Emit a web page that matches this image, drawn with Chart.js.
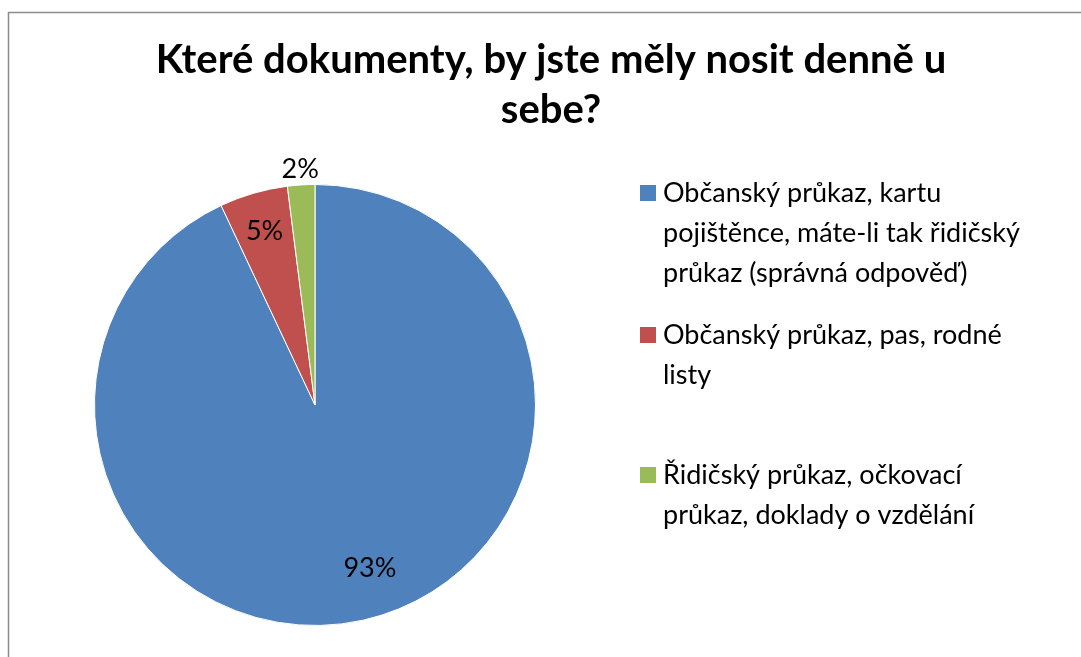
<!DOCTYPE html>
<html>
<head>
<meta charset="utf-8">
<script src="https://cdn.jsdelivr.net/npm/chart.js@4"></script>
<style>
  html, body { margin: 0; padding: 0; background: #fff; }
  #wrap { width: 1081px; height: 657px; position: relative; }
</style>
</head>
<body>
<div id="wrap"><canvas id="chart" width="1081" height="657"></canvas></div>
<script>
const titleLines = ["Které dokumenty, by jste měly nosit denně u", "sebe?"];
const categories = [
    ["Občanský průkaz, kartu", "pojištěnce, máte-li tak řidičský", "průkaz (správná odpověď)"],
    ["Občanský průkaz, pas, rodné", "listy"],
    ["Řidičský průkaz, očkovací", "průkaz, doklady o vzdělání"]
];
const values = [93, 5, 2];
const colors = ["#4F81BD", "#C0504D", "#9BBB59"];

const FONT = "Lato, 'Open Sans', sans-serif";

// frame, title and legend drawn by hand (Excel-like layout)
const decorPlugin = {
    id: "decor",
    beforeDraw(chart) {
        const ctx = chart.ctx;
        ctx.save();
        ctx.fillStyle = "#fff";
        ctx.fillRect(0, 0, chart.width, chart.height);
        ctx.strokeStyle = "#8c8c8c";
        ctx.lineWidth = 1.5;
        ctx.beginPath();
        ctx.moveTo(8.5, chart.height + 5);
        ctx.lineTo(8.5, 12.5);
        ctx.lineTo(chart.width + 5, 12.5);
        ctx.stroke();
        ctx.restore();
    },
    afterDraw(chart) {
        const ctx = chart.ctx;
        ctx.save();
        // title
        ctx.fillStyle = "#000";
        ctx.textAlign = "center";
        ctx.textBaseline = "middle";
        ctx.font = "bold 40px " + FONT;
        titleLines.forEach((line, i) => ctx.fillText(line, 551, 60 + i * 50));

        // legend
        ctx.font = "27px " + FONT;
        ctx.textAlign = "left";
        const itemTops = [193, 335, 475];
        categories.forEach((lines, i) => {
            ctx.fillStyle = colors[i];
            ctx.fillRect(640, itemTops[i] - 8, 16, 16);
            ctx.fillStyle = "#000";
            lines.forEach((line, j) => ctx.fillText(line, 663, itemTops[i] + j * 40));
        });

        // percent labels (small slices outside, big slice nudged like Excel best fit)
        const meta = chart.getDatasetMeta(0);
        ctx.font = "27px " + FONT;
        ctx.textAlign = "center";
        meta.data.forEach((arc, i) => {
            let mid = (arc.startAngle + arc.endAngle) / 2;
            let r = arc.outerRadius * 0.82;
            if (values[i] < 3) r = arc.outerRadius + 16;
            if (values[i] > 50) { mid -= 0.105; r = arc.outerRadius * 0.78; }
            ctx.fillText(values[i] + "%", arc.x + Math.cos(mid) * r, arc.y + Math.sin(mid) * r);
        });
        ctx.restore();
    }
};

new Chart(document.getElementById("chart").getContext("2d"), {
    type: "pie",
    data: {
        labels: categories.map(c => c.join(" ")),
        datasets: [{
            data: values,
            backgroundColor: colors,
            borderColor: "#fff",
            borderWidth: 1,
            hoverOffset: 0
        }]
    },
    options: {
        responsive: false,
        animation: false,
        layout: { padding: { left: 94, right: 545, top: 184, bottom: 31 } },
        plugins: {
            legend: { display: false },
            title: { display: false },
            tooltip: { enabled: false }
        }
    },
    plugins: [decorPlugin]
});
</script>
</body>
</html>
